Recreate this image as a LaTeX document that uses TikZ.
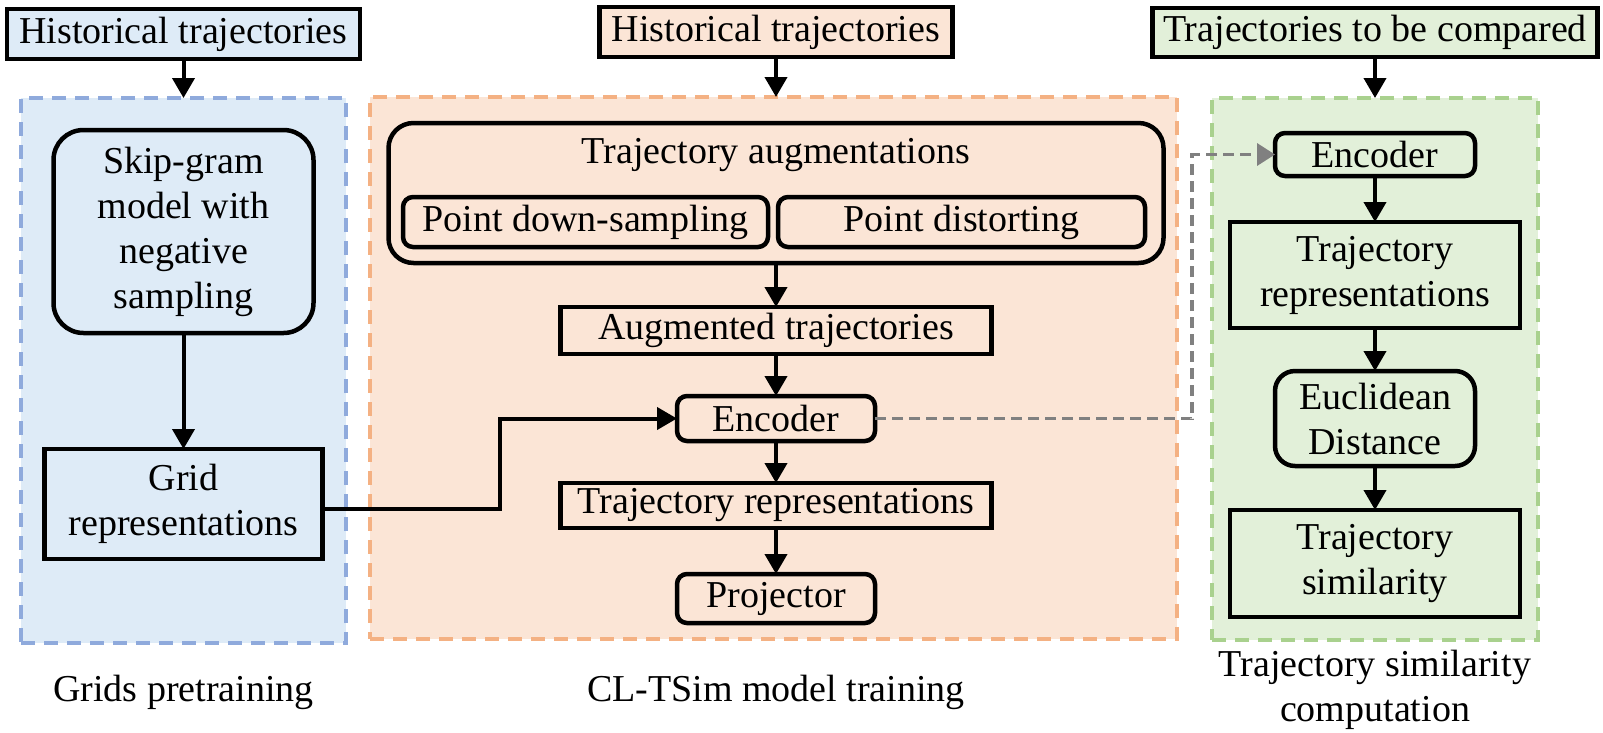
\documentclass[tikz,border=0pt]{standalone}
\usepackage{fontspec}
\setmainfont{Liberation Serif}
\usetikzlibrary{arrows.meta}
\definecolor{bluefill}{HTML}{DEEBF7}
\definecolor{blueedge}{HTML}{8FAADC}
\definecolor{orangefill}{HTML}{FBE5D6}
\definecolor{orangeedge}{HTML}{F4B183}
\definecolor{greenfill}{HTML}{E2F0D9}
\definecolor{greenedge}{HTML}{A9D18E}
\definecolor{linkgray}{HTML}{808080}
\begin{document}
\begin{tikzpicture}[x=1pt,y=-1pt,
  every node/.style={font=\rmfamily\fontsize{38}{45}\selectfont, inner sep=0pt, outer sep=0pt},
  box/.style={draw=black, line width=4.5pt, align=center},
  rbox/.style={box, rounded corners=#1},
  region/.style={draw=#1, line width=3.5pt, dash pattern=on 14pt off 9pt},
  arr/.style={line width=4pt, -{Triangle[length=20pt,width=22pt]}},
  grayarr/.style={draw=linkgray, line width=3.5pt, dash pattern=on 11pt off 6pt, -{Triangle[length=18pt,width=22pt]}},
  lbl/.style={align=center}
]
\useasboundingbox (0,0) rectangle (1603,732);
\fill[white] (0,0) rectangle (1603,732);

% regions
\node[region=blueedge, fill=bluefill, minimum width=325pt, minimum height=545pt] (regL) at (183.5,370.5) {};
\node[region=orangeedge, fill=orangefill, minimum width=807pt, minimum height=542pt] (regM) at (773.5,368) {};
\node[region=greenedge, fill=greenfill, minimum width=326pt, minimum height=542pt] (regR) at (1375,369) {};

% top input boxes
\node[box, fill=bluefill, minimum width=353pt, minimum height=50pt] (topL) at (183.5,34) {Historical trajectories};
\node[box, fill=orangefill, minimum width=353pt, minimum height=50pt] (topM) at (776,32) {Historical trajectories};
\node[box, fill=greenfill, minimum width=445pt, minimum height=49pt] (topR) at (1375,32.5) {Trajectories to be compared};

% left column
\node[rbox=30pt, fill=bluefill, minimum width=260pt, minimum height=203pt] (skip) at (183.5,231.5) {Skip-gram\\model with\\negative\\sampling};
\node[box, fill=bluefill, minimum width=278pt, minimum height=110pt] (grid) at (183.5,504) {Grid\\representations};
\node[lbl] (labL) at (183.5,692) {Grids pretraining};

% middle column
\node[rbox=25pt, fill=orangefill, minimum width=775pt, minimum height=140pt] (aug) at (776,193) {};
\node (augt) at (776,155) {Trajectory augmentations};
\node[rbox=10pt, fill=orangefill, minimum width=365pt, minimum height=50pt] (pds) at (585.5,222) {Point down-sampling};
\node[rbox=10pt, fill=orangefill, minimum width=367pt, minimum height=50pt] (pdist) at (961.5,222) {Point distorting};
\node[box, fill=orangefill, minimum width=431pt, minimum height=47pt] (augtraj) at (776,330.5) {Augmented trajectories};
\node[rbox=10pt, fill=orangefill, minimum width=198pt, minimum height=45pt] (encM) at (776,418.5) {Encoder};
\node[box, fill=orangefill, minimum width=431pt, minimum height=45pt] (trM) at (776,505.5) {Trajectory representations};
\node[rbox=10pt, fill=orangefill, minimum width=198pt, minimum height=49pt] (proj) at (776,598.5) {Projector};
\node[lbl] (labM) at (776,692) {CL-TSim model training};

% right column
\node[rbox=10pt, fill=greenfill, minimum width=200pt, minimum height=43pt] (encR) at (1375,154.5) {Encoder};
\node[box, fill=greenfill, minimum width=290pt, minimum height=106pt] (trR) at (1375,275) {Trajectory\\representations};
\node[rbox=20pt, fill=greenfill, minimum width=200pt, minimum height=95pt] (euc) at (1375,418.5) {Euclidean\\Distance};
\node[box, fill=greenfill, minimum width=290pt, minimum height=107pt] (sim) at (1375,563.5) {Trajectory\\similarity};
\node[lbl] (labR) at (1375,689.5) {Trajectory similarity\\computation};

% arrows
\draw[arr] (topL.south) -- (topL.south |- regL.north);
\draw[arr] (topM.south) -- (topM.south |- regM.north);
\draw[arr] (topR.south) -- (topR.south |- regR.north);
\draw[arr] (skip.south) -- (grid.north);
\draw[arr] (aug.south) -- (augtraj.north);
\draw[arr] (augtraj.south) -- (encM.north);
\draw[arr] (encM.south) -- (trM.north);
\draw[arr] (trM.south) -- (proj.north);
\draw[arr] (encR.south) -- (trR.north);
\draw[arr] (trR.south) -- (euc.north);
\draw[arr] (euc.south) -- (sim.north);

\coordinate (elb) at (500,509);
\draw[arr] (grid.east |- elb) -- (elb) |- (encM.west);
\coordinate (gx) at (1192,0);
\draw[grayarr] (encM.east) -- (encM.east -| gx) |- (encR.west);
\end{tikzpicture}
\end{document}
